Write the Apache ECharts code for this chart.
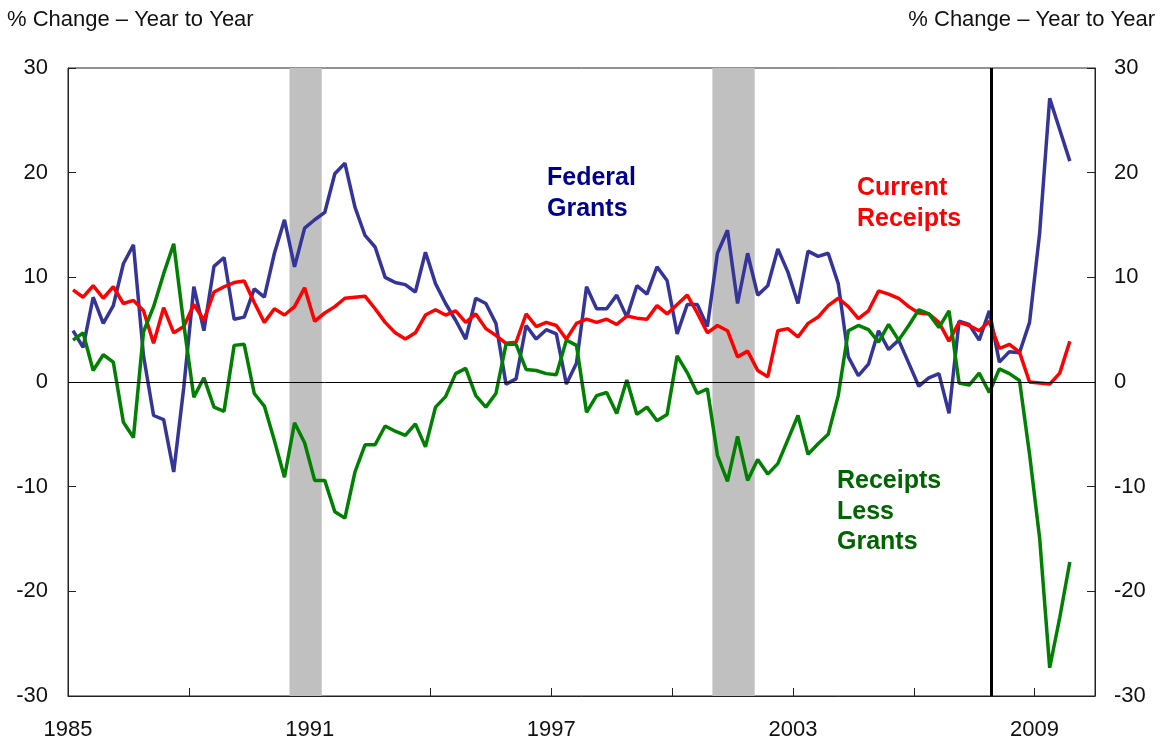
<!DOCTYPE html>
<html>

<head>
    <meta charset="utf-8">
    <title></title>
    <script src="https://cdn.jsdelivr.net/npm/echarts@6/dist/echarts.min.js"></script>
</head>
<style>
    html,
    body {
        margin: 0;
        padding: 0;
        background: #fff;
    }

    #chart_box {
        width: 1162px;
        height: 745px;
    }
</style>

<body>
    <div id="chart_box"></div>

    <script>
        // quarterly data, 1985Q1 - 2009Q4
        var startYear = 1985;
        var quarters = [];
        for (var y = 1985; y <= 2009; y++) {
            for (var q = 1; q <= 4; q++) {
                quarters.push(y + 'Q' + q);
            }
        }

        var federalGrants = [4.9, 3.3, 8.1, 5.6, 7.3, 11.3, 13.1, 2.5, -3.2, -3.6,
            -8.6, -0.5, 9.1, 4.9, 11.05, 11.9, 6.0, 6.2, 8.9, 8.1,
            12.3, 15.5, 11.0, 14.7, 15.5, 16.2, 19.9, 20.9, 16.7, 14.0,
            12.9, 10.0, 9.5, 9.3, 8.6, 12.4, 9.4, 7.5, 5.9, 4.1,
            8.0, 7.5, 5.6, -0.2, 0.3, 5.4, 4.1, 5.0, 4.6, -0.2,
            1.8, 9.1, 7.0, 7.0, 8.3, 6.2, 9.2, 8.4, 11.0, 9.7,
            4.6, 7.4, 7.4, 5.3, 12.3, 14.5, 7.5, 12.3, 8.3, 9.2,
            12.7, 10.5, 7.5, 12.5, 12.0, 12.3, 9.4, 2.4, 0.6, 1.7,
            4.9, 3.1, 4.0, 1.8, -0.4, 0.4, 0.8, -3.0, 5.8, 5.5,
            4.0, 6.8, 1.9, 2.9, 2.8, 5.7, 14.2, 27.1, 24.1, 21.1
        ];

        var currentReceipts = [8.8, 8.1, 9.2, 8.0, 9.1, 7.5, 7.8, 6.8, 3.7, 7.1,
            4.7, 5.3, 7.4, 5.9, 8.6, 9.1, 9.5, 9.65, 7.6, 5.7,
            7.0, 6.4, 7.2, 9.0, 5.8, 6.6, 7.2, 8.0, 8.1, 8.2,
            7.0, 5.7, 4.7, 4.1, 4.7, 6.4, 6.9, 6.4, 6.8, 5.7,
            6.5, 5.1, 4.45, 3.7, 3.8, 6.5, 5.3, 5.7, 5.4, 4.1,
            5.6, 6.0, 5.7, 6.0, 5.5, 6.3, 6.1, 6.0, 7.3, 6.5,
            7.4, 8.3, 6.6, 4.7, 5.4, 4.9, 2.4, 2.95, 1.1, 0.5,
            4.9, 5.1, 4.3, 5.6, 6.2, 7.3, 8.0, 7.2, 6.05, 6.8,
            8.7, 8.4, 8.0, 7.2, 6.6, 6.5, 5.7, 3.9, 5.7, 5.4,
            4.9, 5.8, 3.2, 3.6, 2.85, 0.0, -0.1, -0.2, 0.85, 3.9
        ];

        var receiptsLessGrants = [4.0, 4.7, 1.1, 2.6, 1.9, -3.85, -5.3, 4.8, 7.2, 10.35,
            13.2, 5.5, -1.45, 0.4, -2.4, -2.8, 3.5, 3.6, -1.1, -2.3,
            -5.6, -9.1, -3.9, -5.8, -9.4, -9.4, -12.4, -13.0, -8.6, -6.0,
            -6.0, -4.2, -4.7, -5.1, -4.0, -6.2, -2.4, -1.4, 0.8, 1.3,
            -1.3, -2.4, -1.1, 3.6, 3.6, 1.2, 1.1, 0.8, 0.7, 4.0,
            3.5, -2.9, -1.3, -1.0, -3.0, 0.2, -3.1, -2.4, -3.7, -3.1,
            2.5, 0.9, -1.1, -0.65, -7.0, -9.5, -5.2, -9.4, -7.4, -8.8,
            -7.8, -5.5, -3.2, -6.9, -5.9, -5.0, -1.3, 4.9, 5.4, 5.0,
            3.8, 5.5, 4.0, 5.4, 6.9, 6.5, 5.2, 6.8, -0.1, -0.3,
            0.85, -1.0, 1.25, 0.8, 0.15, -6.9, -14.9, -27.3, -22.5, -17.2
        ];

        var yearLabels = ['1985', '1991', '1997', '2003', '2009'];
        var yTicks = [-30, -20, -10, 0, 10, 20, 30];
        var recessions = [[1990.5, 1991.3], [2001.0, 2002.05]];
        var markerYear = 2007.93;

        // x position of each quarter, in years since 1985 (mid quarter)
        function quarterPos(label) {
            var yr = parseInt(label.slice(0, 4), 10);
            var qq = parseInt(label.slice(5), 10);
            return yr - startYear + (qq - 1) / 4 + 0.125;
        }

        function pairs(values) {
            return values.map(function(v, i) {
                return [quarterPos(quarters[i]), v];
            });
        }

        var font = 'Liberation Sans, Arial, sans-serif';
        var axisColor = '#222';

        var myChart = echarts.init(document.getElementById('chart_box'));

        var option = {
            animation: false,
            grid: {
                left: 68,
                right: 67,
                top: 68,
                bottom: 49,
                show: true,
                borderColor: axisColor,
                borderWidth: 1
            },
            xAxis: {
                type: 'value',
                min: 0,
                max: 25.5,
                interval: 3,
                splitLine: { show: false },
                axisLine: { show: true, onZero: false, lineStyle: { color: axisColor, width: 1 } },
                axisTick: { show: true, inside: true, length: 8, lineStyle: { color: axisColor } },
                axisLabel: {
                    margin: 23,
                    color: '#111',
                    fontSize: 22,
                    fontFamily: font,
                    showMaxLabel: false,
                    formatter: function(v) {
                        var lab = String(startYear + v);
                        return yearLabels.indexOf(lab) >= 0 ? lab : '';
                    }
                }
            },
            yAxis: [{
                type: 'value',
                position: 'left',
                min: yTicks[0],
                max: yTicks[yTicks.length - 1],
                interval: 10,
                splitLine: { show: false },
                axisLine: { show: true, lineStyle: { color: axisColor } },
                axisTick: { show: true, inside: true, length: 8, lineStyle: { color: axisColor } },
                axisLabel: { margin: 20, color: '#111', fontSize: 22, fontFamily: font }
            }, {
                type: 'value',
                position: 'right',
                min: yTicks[0],
                max: yTicks[yTicks.length - 1],
                interval: 10,
                splitLine: { show: false },
                axisLine: { show: true, lineStyle: { color: axisColor } },
                axisTick: { show: true, inside: true, length: 8, lineStyle: { color: axisColor } },
                axisLabel: { margin: 19, color: '#111', fontSize: 22, fontFamily: font }
            }],
            graphic: [{
                type: 'text',
                left: 7,
                top: 9,
                style: { text: '% Change – Year to Year', fontSize: 22, fontFamily: font, fill: '#111' }
            }, {
                type: 'text',
                right: 7,
                top: 9,
                style: { text: '% Change – Year to Year', fontSize: 22, fontFamily: font, fill: '#111' }
            }, {
                type: 'text',
                left: 547,
                top: 163,
                style: {
                    text: 'Federal\nGrants', fontSize: 25, fontWeight: 'bold', fontFamily: font,
                    fill: '#00008f', lineHeight: 30.5
                }
            }, {
                type: 'text',
                left: 857,
                top: 173,
                style: {
                    text: 'Current\nReceipts', fontSize: 25, fontWeight: 'bold', fontFamily: font,
                    fill: '#ff0000', lineHeight: 30.5
                }
            }, {
                type: 'text',
                left: 837,
                top: 466,
                style: {
                    text: 'Receipts\nLess\nGrants', fontSize: 25, fontWeight: 'bold', fontFamily: font,
                    fill: '#006400', lineHeight: 30.5
                }
            }],
            series: [{
                name: 'Federal Grants',
                type: 'line',
                symbol: 'none',
                data: pairs(federalGrants),
                lineStyle: { color: '#353599', width: 3.5 },
                z: 3,
                markArea: {
                    silent: true,
                    itemStyle: { color: '#c0c0c0' },
                    data: recessions.map(function(r) {
                        return [{ xAxis: r[0] - startYear }, { xAxis: r[1] - startYear }];
                    })
                }
            }, {
                name: 'Current Receipts',
                type: 'line',
                symbol: 'none',
                data: pairs(currentReceipts),
                lineStyle: { color: '#ff0000', width: 3.5 },
                z: 3,
                markLine: {
                    silent: true,
                    symbol: 'none',
                    label: { show: false },
                    data: [{
                        yAxis: 0,
                        lineStyle: { color: '#000', width: 1, type: 'solid' }
                    }, {
                        xAxis: markerYear - startYear,
                        lineStyle: { color: '#000', width: 3, type: 'solid' }
                    }]
                }
            }, {
                name: 'Receipts Less Grants',
                type: 'line',
                symbol: 'none',
                data: pairs(receiptsLessGrants),
                lineStyle: { color: '#008000', width: 3.5 },
                z: 3
            }]
        };

        myChart.setOption(option);
    </script>
</body>

</html>
